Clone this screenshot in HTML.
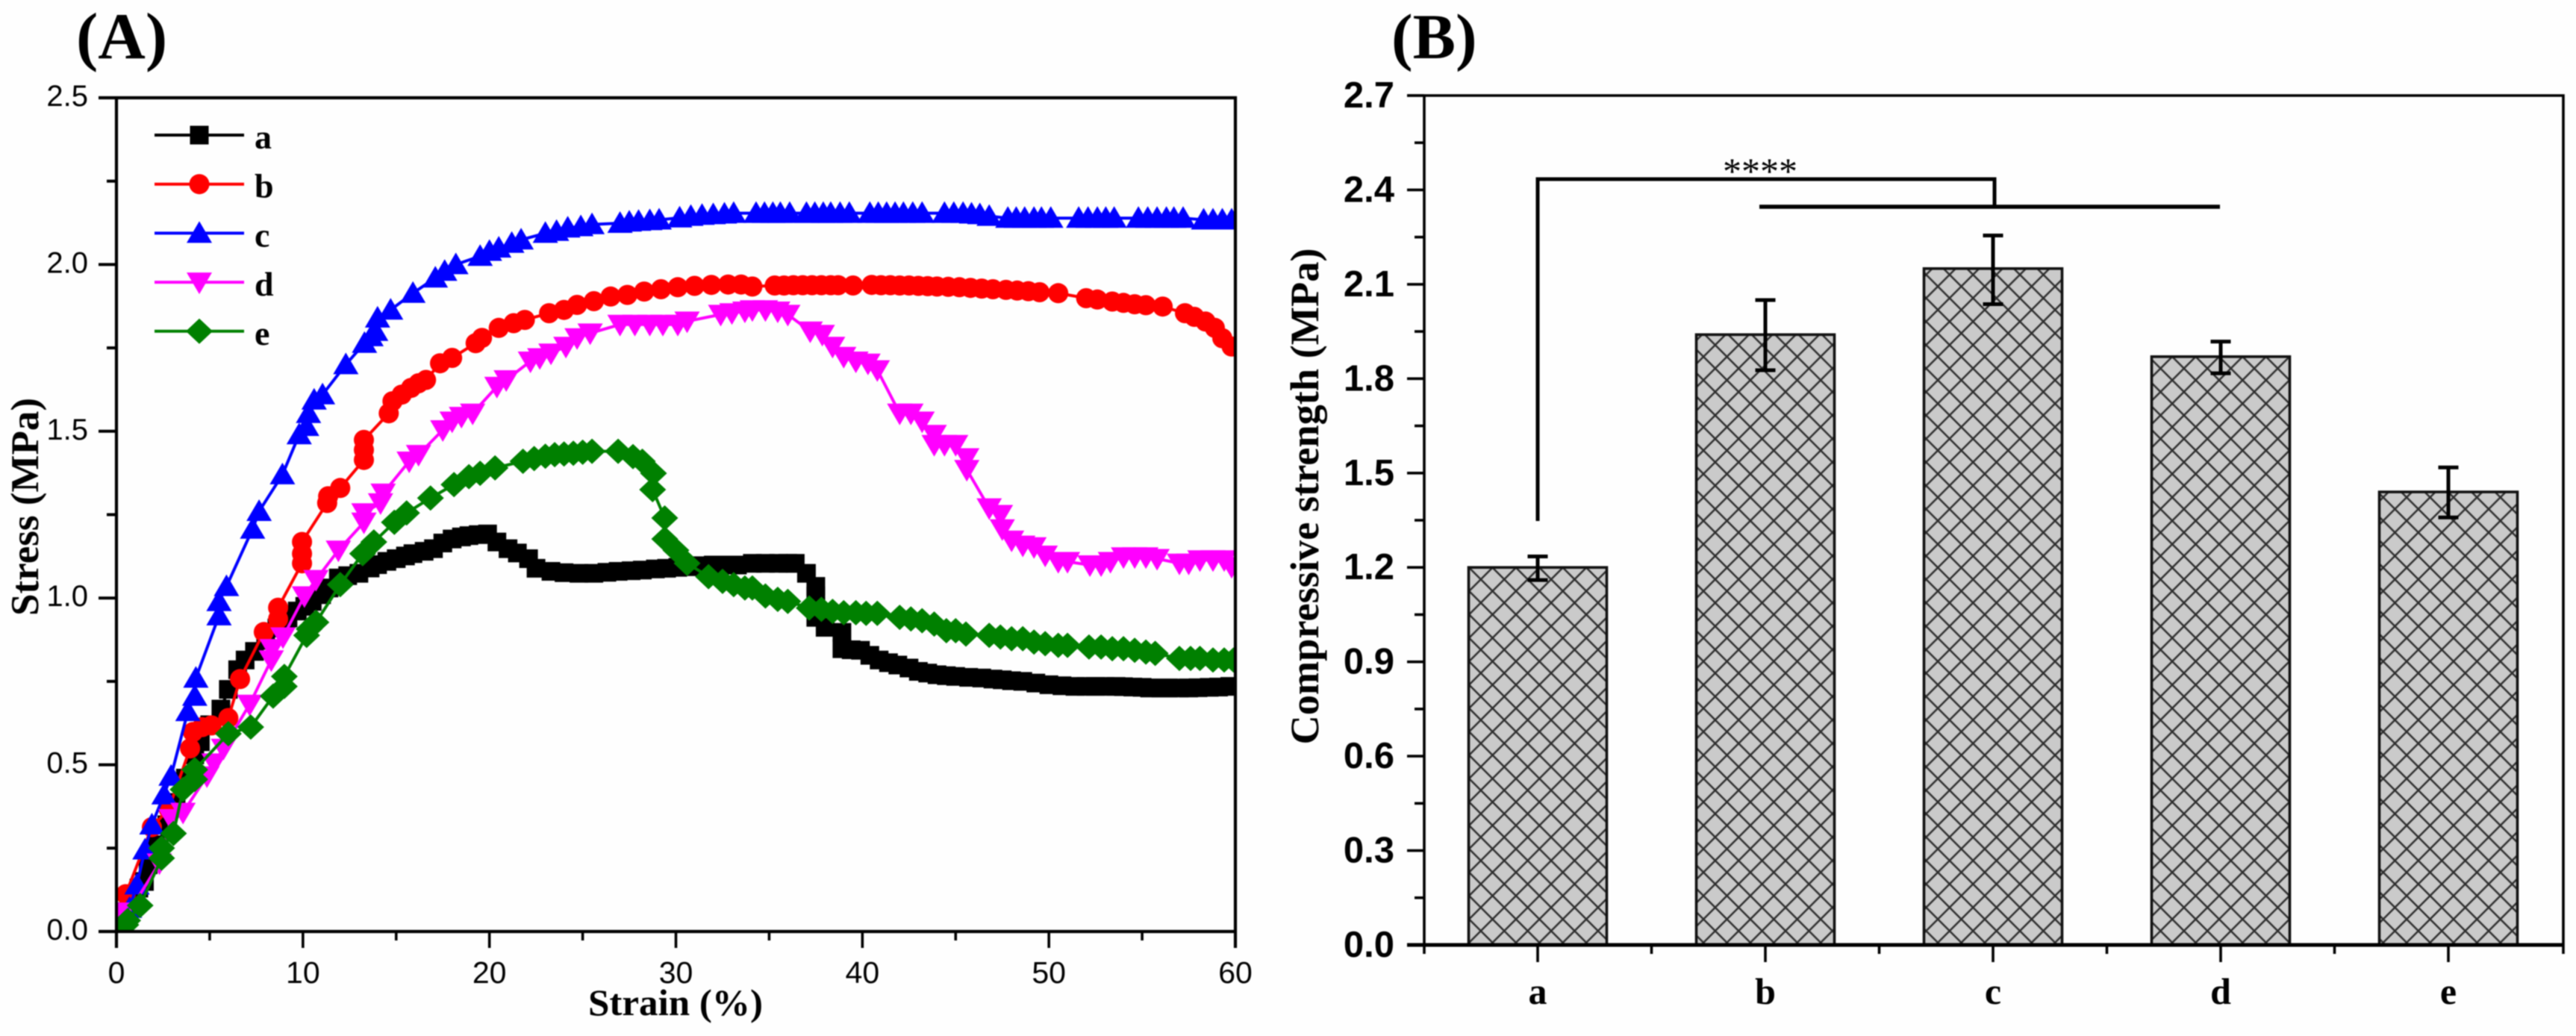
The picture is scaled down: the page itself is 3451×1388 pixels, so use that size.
<!DOCTYPE html>
<html lang="en">
<head>
<meta charset="utf-8">
<title>Stress-strain curves and compressive strength</title>
<style>
html,body{margin:0;padding:0;background:#fefefe;}
#figure{display:block;width:3451px;height:1388px;background:#fefefe;filter:blur(0.9px);}
.serif{font-family:"Liberation Serif",serif;font-weight:bold;fill:#000;}
.sans{font-family:"Liberation Sans",sans-serif;fill:#000;}
</style>
</head>
<body>
<svg id="figure" xmlns="http://www.w3.org/2000/svg" width="3451" height="1388" viewBox="0 0 3451 1388">
  <defs>
    <clipPath id="plot-clip"><rect x="156" y="131" width="1499" height="1117"/></clipPath>
    <pattern id="crosshatch" patternUnits="userSpaceOnUse" x="2062.3" y="823.3" width="31.4" height="31.4">
      <rect width="31.4" height="31.4" fill="#cacaca"/>
      <path d="M0 0L31.4 31.4M31.4 0L0 31.4M-8 23.4L8 39.4M23.4 -8L39.4 8M-8 8L8 -8M23.4 39.4L39.4 23.4" stroke="#2e2e2e" stroke-width="2.5" fill="none"/>
    </pattern>
  </defs>

  <text class="serif" x="102" y="78" font-size="88">(A)</text>
  <text class="serif" x="1864" y="78" font-size="86">(B)</text>

  <g id="panel-a">
    <g id="a-curves" clip-path="url(#plot-clip)"></g>
    <g id="a-axes"></g>
    <g id="a-legend"></g>
    <text class="serif" transform="translate(51,679) rotate(-90)" text-anchor="middle" font-size="53" textLength="292" lengthAdjust="spacingAndGlyphs">Stress (MPa)</text>
    <text class="serif" x="905" y="1360" text-anchor="middle" font-size="50" textLength="234" lengthAdjust="spacingAndGlyphs">Strain (%)</text>
  </g>

  <g id="panel-b">
    <g id="b-bars"></g>
    <g id="b-axes"></g>
    <g id="b-annotation">
      <path d="M2060 698V240H2672V277" fill="none" stroke="#000" stroke-width="5"/>
      <path d="M2357 277H2974" fill="none" stroke="#000" stroke-width="5.4"/>
      <text x="2358" y="246" text-anchor="middle" font-size="50" font-family="'Liberation Serif',serif" fill="#000">****</text>
    </g>
    <text class="serif" transform="translate(1766,665) rotate(-90)" text-anchor="middle" font-size="54" textLength="665" lengthAdjust="spacingAndGlyphs">Compressive strength (MPa)</text>
  </g>
</svg>

<script>
// ---------- Panel A values ----------
const strainA = [
0.2,0.6,1.2,1.5,1.7,2.2,2.7,3.2,3.7,4.2,
4.5,5.0,5.6,6.0,6.5,6.9,7.4,8.0,8.6,9.2,
9.7,10.1,10.5,11.0,11.4,11.9,12.4,13.0,13.6,14.0,
14.5,15.0,15.5,15.9,16.5,17.0,17.5,18.0,18.5,18.9,
19.4,19.9,20.4,21.0,21.5,22.1,22.5,23.3,24.0,24.8,
25.6,26.3,26.9,27.6,28.2,28.9,29.5,30.1,30.7,31.4,
32.0,32.7,33.3,34.1,34.8,35.5,36.0,36.4,37.0,37.5,
37.5,37.5,37.5,38.0,38.9,38.9,39.4,39.9,40.4,40.9,
41.4,41.9,42.5,43.0,43.5,44.0,44.5,45.0,45.7,46.4,
47.0,47.5,48.0,48.6,49.3,50.0,50.7,51.4,52.0,52.5,
53.0,53.6,54.0,54.5,55.0,55.4,56.0,56.4,57.0,57.5,
58.0,58.6,59.1,59.7];
const stressA = [
0.02,0.06,0.13,0.15,0.20,0.26,0.32,0.387,0.46,0.53,
0.569,0.62,0.667,0.726,0.785,0.814,0.84,0.873,0.91,0.94,
0.961,0.975,0.99,1.01,1.03,1.06,1.067,1.074,1.09,1.10,
1.11,1.118,1.126,1.133,1.14,1.148,1.165,1.177,1.183,1.187,
1.19,1.192,1.168,1.148,1.135,1.118,1.089,1.08,1.076,1.074,
1.074,1.077,1.08,1.082,1.084,1.087,1.089,1.092,1.094,1.097,
1.099,1.099,1.099,1.104,1.104,1.104,1.104,1.104,1.074,1.035,
1.006,0.975,0.942,0.912,0.897,0.848,0.845,0.843,0.828,0.814,
0.806,0.799,0.79,0.78,0.775,0.77,0.767,0.765,0.762,0.76,
0.757,0.755,0.752,0.75,0.745,0.74,0.737,0.735,0.735,0.735,
0.735,0.735,0.734,0.733,0.732,0.73,0.73,0.73,0.73,0.73,
0.731,0.732,0.733,0.735];

const strainB = [
0.5,1.9,2.8,3.95,4.1,4.6,5.1,6.0,6.63,7.9,
8.67,8.67,9.95,9.95,9.95,11.3,11.35,12.0,13.27,13.27,
13.27,14.6,14.8,15.3,15.8,16.2,16.6,17.35,18.0,19.26,
19.6,20.5,21.3,21.9,23.2,24.0,24.7,25.6,26.5,27.4,
28.3,29.2,30.1,31.0,31.9,32.8,33.5,34.1,35.3,35.8,
36.3,36.8,37.3,37.8,38.3,38.7,39.5,40.5,41.0,41.5,
42.0,42.5,43.0,43.5,44.0,44.6,45.2,45.8,46.4,47.0,
47.7,48.3,48.9,49.5,50.5,52.0,52.6,53.4,54.0,54.6,
55.2,56.1,57.3,57.8,58.4,58.9,59.3,59.8];
const stressB = [
0.112,0.313,0.367,0.549,0.598,0.613,0.618,0.64,0.757,0.898,
0.937,0.971,1.104,1.133,1.168,1.285,1.305,1.33,1.414,1.444,
1.474,1.554,1.59,1.61,1.63,1.644,1.654,1.704,1.72,1.764,
1.78,1.81,1.824,1.834,1.854,1.864,1.879,1.89,1.904,1.909,
1.919,1.926,1.932,1.936,1.939,1.94,1.94,1.934,1.937,1.937,
1.938,1.938,1.938,1.938,1.938,1.938,1.937,1.939,1.938,1.938,
1.937,1.937,1.936,1.935,1.934,1.933,1.932,1.93,1.928,1.926,
1.924,1.922,1.92,1.917,1.914,1.899,1.895,1.889,1.885,1.881,
1.878,1.874,1.854,1.843,1.829,1.81,1.779,1.754];

const strainC = [
0.3,0.7,1.1,1.53,1.9,2.55,2.93,3.83,4.2,4.26,
5.5,5.5,5.9,7.3,7.65,8.9,9.8,10.2,10.3,10.6,
11.05,12.3,13.3,13.65,13.9,14.0,14.7,15.9,17.1,17.6,
18.2,19.5,20.0,20.5,21.2,21.7,23.0,23.6,24.2,24.9,
25.5,27.0,27.5,28.0,28.6,29.1,30.2,30.8,31.4,32.0,
32.6,33.1,34.3,34.75,35.2,35.6,36.1,37.0,37.45,37.9,
38.3,38.8,39.3,40.4,40.85,41.3,41.75,42.2,42.7,43.2,
44.4,44.9,45.4,45.85,46.3,46.8,47.8,48.25,48.7,49.2,
49.6,50.1,51.6,52.1,52.6,53.05,53.5,54.8,55.3,55.8,
56.3,56.7,57.2,58.3,58.8,59.3,59.8];
const stressC = [
0.02,0.07,0.14,0.245,0.32,0.41,0.466,0.66,0.706,0.76,
0.947,0.99,1.035,1.207,1.26,1.37,1.49,1.515,1.554,1.594,
1.61,1.70,1.764,1.784,1.80,1.84,1.864,1.914,1.96,1.98,
2.0,2.025,2.04,2.05,2.064,2.074,2.094,2.10,2.11,2.114,
2.12,2.124,2.128,2.13,2.132,2.134,2.14,2.145,2.148,2.15,
2.152,2.154,2.154,2.154,2.154,2.154,2.154,2.154,2.154,2.154,
2.154,2.154,2.154,2.154,2.154,2.154,2.154,2.154,2.154,2.154,
2.154,2.154,2.154,2.152,2.15,2.145,2.139,2.139,2.139,2.139,
2.139,2.139,2.139,2.139,2.139,2.139,2.139,2.139,2.139,2.139,
2.139,2.139,2.139,2.134,2.134,2.134,2.134];

const strainD = [
0.13,0.25,2.3,2.93,3.57,4.85,5.23,5.74,7.14,8.3,
8.34,8.93,10.08,10.7,11.9,13.27,13.27,14.16,14.3,15.7,
16.2,17.5,18.0,18.5,19.1,20.4,20.9,22.2,22.7,23.3,
24.1,24.7,25.4,27.0,27.8,28.6,29.3,30.1,30.6,32.4,
33.0,33.7,34.1,34.8,35.46,36.0,37.2,37.85,38.4,39.0,
39.65,40.3,40.8,42.0,42.6,43.2,43.85,43.85,44.4,45.0,
45.6,45.6,46.8,47.4,47.5,48.0,48.6,49.2,49.8,50.5,
51.0,52.2,52.8,53.3,54.0,54.6,55.2,55.8,57.0,57.5,
58.1,58.8,59.4,59.8];
const stressD = [
0.058,0.02,0.205,0.338,0.357,0.466,0.505,0.549,0.681,0.814,
0.848,0.883,1.006,1.055,1.143,1.227,1.255,1.285,1.314,1.41,
1.43,1.504,1.53,1.544,1.554,1.634,1.654,1.71,1.72,1.734,
1.754,1.78,1.794,1.82,1.82,1.82,1.82,1.82,1.83,1.85,
1.855,1.86,1.864,1.864,1.86,1.85,1.80,1.79,1.754,1.724,
1.71,1.704,1.684,1.554,1.554,1.53,1.49,1.46,1.46,1.46,
1.42,1.385,1.27,1.25,1.207,1.173,1.158,1.153,1.128,1.109,
1.109,1.099,1.099,1.109,1.123,1.123,1.123,1.118,1.104,1.104,
1.114,1.114,1.114,1.094];

const strainE = [
0.5,0.6,1.27,2.42,2.42,3.06,3.57,4.2,4.2,6.0,
7.2,8.4,9.0,9.0,10.2,10.33,10.7,12.0,13.2,13.8,
14.9,15.56,16.84,18.1,18.9,19.5,20.3,21.8,22.4,23.0,
23.5,24.0,24.5,25.0,25.5,26.9,27.7,28.2,28.8,28.75,
29.4,29.4,30.0,30.6,31.75,32.5,33.1,33.7,34.1,34.8,
35.46,36.0,37.15,37.8,38.4,39.0,39.65,40.2,40.8,42.0,
42.6,43.2,43.85,44.5,45.0,45.55,46.8,47.4,48.0,48.6,
49.2,49.8,50.5,51.0,52.15,52.8,53.4,54.0,54.6,55.2,
55.7,57.0,57.6,58.1,58.8,59.4,59.9];
const stressE = [
0.02,0.033,0.078,0.22,0.25,0.294,0.426,0.456,0.485,0.593,
0.613,0.706,0.735,0.765,0.888,0.907,0.927,1.04,1.133,1.168,
1.227,1.255,1.30,1.34,1.364,1.374,1.39,1.41,1.418,1.425,
1.43,1.432,1.434,1.437,1.44,1.44,1.424,1.41,1.374,1.325,
1.24,1.177,1.143,1.104,1.064,1.05,1.04,1.03,1.03,1.006,
0.996,0.99,0.97,0.966,0.96,0.956,0.956,0.954,0.954,0.942,
0.937,0.932,0.922,0.902,0.902,0.892,0.888,0.883,0.878,0.878,
0.868,0.863,0.858,0.858,0.853,0.853,0.848,0.848,0.843,0.838,
0.834,0.819,0.819,0.819,0.814,0.814,0.814];

const seriesNames = ["a","b","c","d","e"];
const seriesColors = ["#000000","#ff0000","#0000ff","#ff00ff","#008000"];
const strainTicks = ["0","10","20","30","40","50","60"];
const stressTicks = ["0.0","0.5","1.0","1.5","2.0","2.5"];

// ---------- Panel B values ----------
const sampleNames = ["a","b","c","d","e"];
const strengthValues = [1.20,1.94,2.15,1.87,1.44];
const strengthUpper = [1.235,2.05,2.255,1.918,1.518];
const strengthLower = [1.16,1.827,2.037,1.817,1.359];
const strengthTicks = ["0.0","0.3","0.6","0.9","1.2","1.5","1.8","2.1","2.4","2.7"];

// ---------- Axis functions ----------
const xA = v => 156 + (v / 60) * 1499;
const yA = v => 1248 - (v / 2.5) * 1117;
const xB = i => 2060 + i * 305;
const yB = v => 1266 - (v / 2.7) * 1138;

const NS = "http://www.w3.org/2000/svg";
function make(tag, parent, attrs) {
  const node = document.createElementNS(NS, tag);
  for (const k in attrs) node.setAttribute(k, attrs[k]);
  parent.appendChild(node);
  return node;
}
function markerPath(kind, cx, cy) {
  if (kind === 0) return `M${cx-12.5} ${cy-12.5}h25v25h-25z`;
  if (kind === 1) return `M${cx-13.5} ${cy}a13.5 13.5 0 1 0 27 0a13.5 13.5 0 1 0 -27 0z`;
  if (kind === 2) return `M${cx} ${cy-16}L${cx+17} ${cy+13}H${cx-17}z`;
  if (kind === 3) return `M${cx} ${cy+16}L${cx+17} ${cy-13}H${cx-17}z`;
  return `M${cx} ${cy-17}L${cx+18} ${cy}L${cx} ${cy+17}L${cx-18} ${cy}z`;
}

// ---------- Panel A drawing ----------
const curves = document.getElementById("a-curves");
const strainSets = [strainA, strainB, strainC, strainD, strainE];
const stressSets = [stressA, stressB, stressC, stressD, stressE];
seriesNames.forEach((name, s) => {
  const group = make("g", curves, {});
  
  
  const xs = strainSets[s];
  const ys = stressSets[s];
  const n = Math.min(xs.length, ys.length);
  let line = "M" + xA(0) + " " + yA(0);
  for (let i = 0; i < n; i++) line += "L" + xA(xs[i]).toFixed(1) + " " + yA(ys[i]).toFixed(1);
  const path = make("path", group, {d: line, fill: "none", stroke: seriesColors[s], "stroke-width": 4});
  
  
  for (let i = 0; i < n; i++) {
    const dot = make("path", group, {d: markerPath(s, +xA(xs[i]).toFixed(1), +yA(ys[i]).toFixed(1)), fill: seriesColors[s]});
    
    
  }
});

const axesA = document.getElementById("a-axes");
const frameA = make("path", axesA, {d: "M132 131H1655V1270M156 131V1270M132 1248H1655", fill: "none", stroke: "#000", "stroke-width": 4.2});


stressTicks.forEach((label, i) => {
  const v = parseFloat(label);
  const tick = make("line", axesA, {x1: 132, x2: 156, y1: yA(v), y2: yA(v), stroke: "#000", "stroke-width": 4});
  
  
  const t = make("text", axesA, {x: 118, y: yA(v) + 11, "text-anchor": "end", "font-size": 40, class: "sans"});
  t.textContent = label;
  
  
  if (i < stressTicks.length - 1) {
    const minorV = v + 0.25;
    const minor = make("line", axesA, {x1: 143, x2: 156, y1: yA(minorV), y2: yA(minorV), stroke: "#000", "stroke-width": 4});
    
    
  }
});
strainTicks.forEach((label, i) => {
  const v = parseFloat(label);
  const tick = make("line", axesA, {x1: xA(v), x2: xA(v), y1: 1248, y2: 1270, stroke: "#000", "stroke-width": 3.6});
  
  
  const t = make("text", axesA, {x: xA(v), y: 1317, "text-anchor": "middle", "font-size": 41, class: "sans"});
  t.textContent = label;
  
  
  if (i < strainTicks.length - 1) {
    const minorV = v + 5;
    const minor = make("line", axesA, {x1: xA(minorV), x2: xA(minorV), y1: 1248, y2: 1260, stroke: "#000", "stroke-width": 3.6});
    
    
  }
});

const legend = document.getElementById("a-legend");
seriesNames.forEach((name, s) => {
  const rowY = 181 + s * 65.7;
  const entry = make("g", legend, {});
  
  
  make("line", entry, {x1: 207, x2: 327, y1: rowY, y2: rowY, stroke: seriesColors[s], "stroke-width": 4});
  make("path", entry, {d: markerPath(s, 267, rowY), fill: seriesColors[s]});
  const t = make("text", entry, {x: 341, y: rowY + 18, "font-size": 46, class: "serif"});
  t.textContent = name;
});

// ---------- Panel B drawing ----------
const bars = document.getElementById("b-bars");
sampleNames.forEach((name, i) => {
  const top = yB(strengthValues[i]);
  const bar = make("rect", bars, {x: xB(i) - 92.5, y: top, width: 185, height: 1266 - top, fill: "url(#crosshatch)", stroke: "#111", "stroke-width": 3.6});
  
  
});
sampleNames.forEach((name, i) => {
  const c = xB(i);
  const hi = yB(strengthUpper[i]);
  const lo = yB(strengthLower[i]);
  const err = make("path", bars, {d: `M${c-13.5} ${hi}H${c+13.5}M${c} ${hi}V${lo}M${c-13.5} ${lo}H${c+13.5}`, fill: "none", stroke: "#000", "stroke-width": 5});
  
  
});

const axesB = document.getElementById("b-axes");
const frameB = make("path", axesB, {d: "M1885 128H3434V1278M1908 128V1278", fill: "none", stroke: "#000", "stroke-width": 3.6});


const baseB = make("line", axesB, {x1: 1885, x2: 3434, y1: 1266, y2: 1266, stroke: "#000", "stroke-width": 5});


strengthTicks.forEach((label, i) => {
  const v = parseFloat(label);
  const tick = make("line", axesB, {x1: 1885, x2: 1908, y1: yB(v), y2: yB(v), stroke: "#000", "stroke-width": 3.6});
  
  
  const t = make("text", axesB, {x: 1868, y: yB(v) + 16, "text-anchor": "end", "font-size": 49, "font-weight": "bold", class: "sans"});
  t.textContent = label;
  
  
  if (i < strengthTicks.length - 1) {
    const minorV = v + 0.15;
    const minor = make("line", axesB, {x1: 1895, x2: 1908, y1: yB(minorV), y2: yB(minorV), stroke: "#000", "stroke-width": 3.6});
    
    
  }
});
sampleNames.forEach((name, i) => {
  const tick = make("line", axesB, {x1: xB(i), x2: xB(i), y1: 1266, y2: 1289, stroke: "#000", "stroke-width": 3.6});
  
  
  const t = make("text", axesB, {x: xB(i), y: 1345, "text-anchor": "middle", "font-size": 50, class: "serif"});
  t.textContent = name;
  
  
  if (i < sampleNames.length - 1) {
    const mx = (xB(i) + xB(i + 1)) / 2;
    const minor = make("line", axesB, {x1: mx, x2: mx, y1: 1266, y2: 1278, stroke: "#000", "stroke-width": 3.6});
    
    
  }
});
</script>
</body>
</html>
